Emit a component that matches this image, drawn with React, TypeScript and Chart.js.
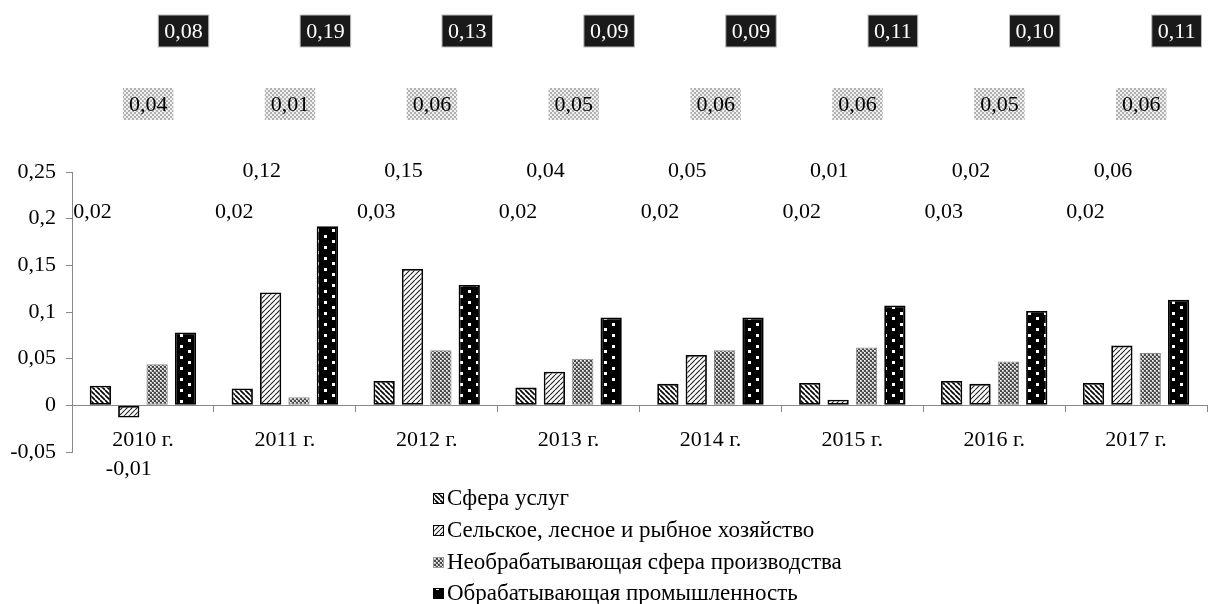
import React, { useEffect, useRef } from "react";
import { Chart, registerables } from "chart.js";

Chart.register(...registerables);

const categories = ["2010 г.", "2011 г.", "2012 г.", "2013 г.", "2014 г.", "2015 г.", "2016 г.", "2017 г."];
const seriesNames = [
  "Сфера услуг",
  "Сельское, лесное и рыбное хозяйство",
  "Необрабатывающая сфера производства",
  "Обрабатывающая промышленность",
];
const services = [0.021, 0.018, 0.026, 0.019, 0.023, 0.024, 0.026, 0.024];
const agriculture = [-0.013, 0.121, 0.146, 0.036, 0.054, 0.006, 0.023, 0.064];
const nonManufacturing = [0.044, 0.0086, 0.059, 0.05, 0.059, 0.062, 0.047, 0.056];
const manufacturing = [0.078, 0.192, 0.129, 0.094, 0.094, 0.107, 0.101, 0.113];
const yTicks = [-0.05, 0, 0.05, 0.1, 0.15, 0.2, 0.25];

const FONT = '"Liberation Serif", "Times New Roman", serif';

function makeTile(w: number, h: number, draw: (c: CanvasRenderingContext2D) => void): CanvasPattern {
  const cv = document.createElement("canvas");
  cv.width = w;
  cv.height = h;
  const c = cv.getContext("2d")!;
  draw(c);
  return document.createElement("canvas").getContext("2d")!.createPattern(cv, "repeat")!;
}

function makePatterns() {
  const p1 = makeTile(5, 5, (c) => {
    c.fillStyle = "#fff";
    c.fillRect(0, 0, 5, 5);
    c.strokeStyle = "#000";
    c.lineWidth = 1.6;
    c.beginPath();
    for (let k = -5; k <= 10; k += 5) {
      c.moveTo(k, 0);
      c.lineTo(k + 5, 5);
    }
    c.stroke();
  });
  const p2 = makeTile(5, 5, (c) => {
    c.fillStyle = "#fff";
    c.fillRect(0, 0, 5, 5);
    c.strokeStyle = "#222";
    c.lineWidth = 1.1;
    c.beginPath();
    for (let k = -5; k <= 10; k += 5) {
      c.moveTo(k, 5);
      c.lineTo(k + 5, 0);
    }
    c.stroke();
  });
  const p3 = makeTile(4, 4, (c) => {
    c.fillStyle = "#4a4a4a";
    c.fillRect(0, 0, 4, 4);
    c.fillStyle = "#c4c4c4";
    c.fillRect(0, 0, 2, 2);
    c.fillRect(2, 2, 2, 2);
    c.fillStyle = "#f4f4f4";
    c.fillRect(0, 0, 1, 1);
    c.fillRect(2, 2, 1, 1);
  });
  const p3light = makeTile(4, 4, (c) => {
    c.fillStyle = "#b0b0b0";
    c.fillRect(0, 0, 4, 4);
    c.fillStyle = "#f0f0f0";
    c.fillRect(0, 0, 2, 2);
    c.fillRect(2, 2, 2, 2);
  });
  const p4 = makeTile(16, 22, (c) => {
    c.fillStyle = "#000";
    c.fillRect(0, 0, 16, 22);
    c.fillStyle = "#fff";
    c.fillRect(4, 4, 3, 3);
    c.fillRect(12, 9, 3, 3);
    c.fillRect(4, 15, 3, 3);
    c.fillRect(12, 20, 3, 2);
    c.fillRect(12, 0, 3, 1);
  });
  return { p1, p2, p3, p3light, p4 };
}

function fmt(v: number): string {
  return v.toFixed(2).replace(".", ",");
}

export default function App() {
  const ref = useRef<HTMLCanvasElement | null>(null);

  useEffect(() => {
    const canvas = ref.current;
    if (!canvas) return;
    const { p1, p2, p3, p3light, p4 } = makePatterns();
    const fills = [p1, p2, p3, p4];
    const borders = ["#000", "#000", "#8a8a8a", "#000"];

    // label placement per series: x shift from bar centre, y band in pixels
    const labelDx = [-8, -9, -9, -2];
    const labelY = [211, 170, 104, 31];
    const negLabelY = 468;

    const labelPlugin = {
      id: "valueLabels",
      afterDatasetsDraw(chart: any) {
        const ctx: CanvasRenderingContext2D = chart.ctx;
        ctx.save();
        ctx.font = `22px ${FONT}`;
        ctx.textAlign = "center";
        ctx.textBaseline = "middle";
        chart.data.datasets.forEach((ds: any, i: number) => {
          const meta = chart.getDatasetMeta(i);
          meta.data.forEach((bar: any, j: number) => {
            const v = ds.data[j] as number;
            const text = fmt(v);
            const x = bar.x + (v < 0 ? 0 : labelDx[i]);
            const y = v < 0 ? negLabelY : labelY[i];
            const w = ctx.measureText(text).width + 12;
            const h = 32;
            if (i === 2) {
              ctx.fillStyle = p3light;
              ctx.fillRect(x - w / 2, y - h / 2, w, h);
              ctx.fillStyle = "#000";
            } else if (i === 3) {
              ctx.fillStyle = "#1a1a1a";
              ctx.fillRect(x - w / 2, y - h / 2, w, h);
              ctx.strokeStyle = "#bbb";
              ctx.lineWidth = 1;
              ctx.strokeRect(x - w / 2, y - h / 2, w, h);
              ctx.fillStyle = "#fff";
            } else {
              ctx.fillStyle = "#000";
            }
            ctx.fillText(text, x, y + 1);
          });
        });
        ctx.restore();
      },
    };

    const legendPlugin = {
      id: "stackedLegend",
      afterDraw(chart: any) {
        const ctx: CanvasRenderingContext2D = chart.ctx;
        ctx.save();
        ctx.font = `23px ${FONT}`;
        ctx.textBaseline = "middle";
        ctx.textAlign = "left";
        const bx = 433;
        const rows = [498, 530, 562, 593];
        chart.data.datasets.forEach((ds: any, i: number) => {
          const y = rows[i];
          ctx.fillStyle = fills[i];
          ctx.fillRect(bx, y - 5, 11, 11);
          ctx.strokeStyle = i === 2 ? "#999" : "#000";
          ctx.lineWidth = 1;
          ctx.strokeRect(bx + 0.5, y - 4.5, 10, 10);
          ctx.fillStyle = "#000";
          ctx.fillText(ds.label, bx + 14, y + 1);
        });
        ctx.restore();
      },
    };

    const chart = new Chart(canvas, {
      type: "bar",
      data: {
        labels: categories,
        datasets: [services, agriculture, nonManufacturing, manufacturing].map((d, i) => ({
          label: seriesNames[i],
          data: d,
          backgroundColor: fills[i],
          borderColor: borders[i],
          borderWidth: i === 2 ? 1 : 1.8,
          borderSkipped: false,
          categoryPercentage: 0.8,
          barPercentage: 0.75,
        })),
      },
      options: {
        animation: false,
        responsive: true,
        maintainAspectRatio: false,
        layout: { padding: { top: 172, left: 0, right: 4, bottom: 152 } },
        plugins: {
          legend: { display: false },
          tooltip: { enabled: false },
        },
        scales: {
          x: {
            type: "category",
            position: { y: 0 } as any,
            offset: true,
            grid: {
              display: true,
              drawOnChartArea: false,
              drawTicks: true,
              tickLength: 6,
              color: "#888",
              offset: true,
            },
            border: { display: true, color: "#888", width: 1 },
            ticks: { color: "#000", font: { family: FONT, size: 22 }, padding: 16 },
          },
          y: {
            min: -0.05,
            max: 0.25,
            afterBuildTicks(scale: any) {
              scale.ticks = yTicks.map((v) => ({ value: v }));
            },
            afterFit(scale: any) {
              scale.width = 72;
            },
            grid: {
              display: true,
              drawOnChartArea: false,
              drawTicks: true,
              tickLength: 6,
              color: "#888",
            },
            border: { display: true, color: "#888", width: 1 },
            ticks: {
              color: "#000",
              font: { family: FONT, size: 22 },
              padding: 10,
              callback: (v: any) => String(Math.round(Number(v) * 100) / 100).replace(".", ","),
            },
          },
        },
      },
      plugins: [labelPlugin, legendPlugin],
    });

    return () => chart.destroy();
  }, []);

  return (
    <div style={{ position: "fixed", left: 0, top: 0, width: 1211, height: 604, background: "#fff" }}>
      <canvas ref={ref} />
    </div>
  );
}
